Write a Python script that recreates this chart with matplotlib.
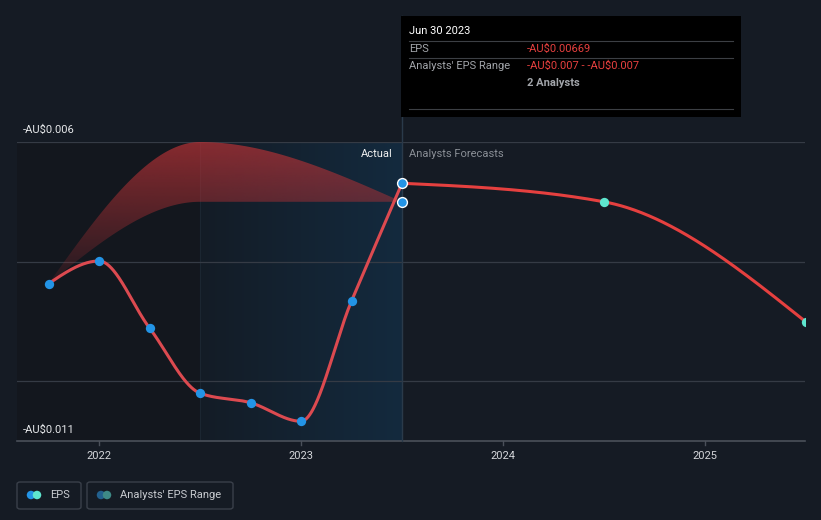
import matplotlib
matplotlib.use("Agg")
import matplotlib.pyplot as plt
import numpy as np
from matplotlib.patches import Rectangle, FancyBboxPatch, Ellipse, Polygon
from matplotlib.lines import Line2D
from matplotlib.colors import LinearSegmentedColormap, to_rgb

plt.rcParams["font.family"] = ["Roboto", "DejaVu Sans"]

# EPS history (decimal years, AU$)
eps_x = [2021.75, 2022.0, 2022.25, 2022.5, 2022.75, 2023.0, 2023.25, 2023.5]
eps_y = [-0.00837, -0.00799, -0.00911, -0.0102, -0.01036, -0.01067, -0.00866, -0.00669]

# analyst forecast
fc_x = [2023.5, 2024.5, 2025.5]
fc_y = [-0.00669, -0.007, -0.00901]

# analysts' EPS range
rng_x = [2021.75, 2022.5, 2023.5]
rng_hi = [-0.00837, -0.006, -0.007]
rng_lo = [-0.00837, -0.007, -0.007]

years = [2022, 2023, 2024, 2025]
y_labels = [r"-AU\$0.006", r"-AU\$0.011"]

W, H = 821, 520
BG = "#151b24"
RED = "#e5403f"
BLUE = "#2394e6"
TEAL = "#5ee6cf"


def monotone(x, y, n=200):
    # monotone cubic (like d3.curveMonotoneX)
    x = np.asarray(x, float)
    y = np.asarray(y, float)
    h = np.diff(x)
    d = np.diff(y) / h
    m = np.zeros(len(x))
    for i in range(1, len(x) - 1):
        if d[i - 1] * d[i] <= 0:
            m[i] = 0
        else:
            p = (d[i - 1] * h[i] + d[i] * h[i - 1]) / (h[i - 1] + h[i])
            m[i] = np.sign(d[i - 1]) * min(2 * abs(d[i - 1]), 2 * abs(d[i]), abs(p))
    if len(x) > 2:
        m[0] = (3 * d[0] - m[1]) / 2 if d[0] * (3 * d[0] - m[1]) > 0 else 0
        m[-1] = (3 * d[-1] - m[-2]) / 2 if d[-1] * (3 * d[-1] - m[-2]) > 0 else 0
    else:
        m[:] = d[0]
    xs, ys = [], []
    for i in range(len(x) - 1):
        t = np.linspace(0, 1, n)
        h00 = 2 * t**3 - 3 * t**2 + 1
        h10 = t**3 - 2 * t**2 + t
        h01 = -2 * t**3 + 3 * t**2
        h11 = t**3 - t**2
        xs.append(x[i] + t * h[i])
        ys.append(h00 * y[i] + h10 * h[i] * m[i] + h01 * y[i + 1] + h11 * h[i] * m[i + 1])
    return np.concatenate(xs), np.concatenate(ys)


fig = plt.figure(figsize=(W / 100, H / 100), dpi=100, facecolor=BG)
x0, x1, ytop, ybot = 17, 805, 142, 441
ax = fig.add_axes([x0 / W, 1 - ybot / H, (x1 - x0) / W, (ybot - ytop) / H])
ax.set_facecolor(BG)
xmin = 2022 - (99 - x0) / 202
xmax = 2022 + (x1 - 99) / 202
ax.set_xlim(xmin, xmax)
ax.set_ylim(-0.011, -0.006)
for s in ax.spines.values():
    s.set_visible(False)
ax.set_yticks([])
ax.set_xticks([])

# shaded past region + highlight
ax.axvspan(xmin, 2022.5, color="#13171e", zorder=0)
grad = np.linspace(0, 1, 256).reshape(1, -1)
cmap_b = LinearSegmentedColormap.from_list("hl", ["#141c26", "#132a3e"])
ax.imshow(grad, extent=[2022.5, 2023.5, -0.011, -0.006], aspect="auto", cmap=cmap_b, zorder=0.5)
ax.axvline(2022.5, color="#1b2631", lw=0.8, zorder=0.6)

# gridlines
for gy in [-0.006, -0.008, -0.010]:
    ax.axhline(gy, color="#353b45", lw=0.9, zorder=1)
ax.axhline(-0.011, color="#4a505a", lw=1.2, zorder=1, clip_on=False)

# analysts range band with vertical gradient
ux, uy = monotone(rng_x, rng_hi)
lx, ly = monotone(rng_x, rng_lo)
verts = np.concatenate([np.column_stack([ux, uy]), np.column_stack([lx, ly])[::-1]])
clip = Polygon(verts, closed=True, transform=ax.transData, fc="none", ec="none")
ax.add_patch(clip)
rgba = np.zeros((256, 1, 4))
rgba[..., :3] = to_rgb("#b53236")
rgba[:, 0, 3] = np.linspace(0.72, 0.05, 256)
im = ax.imshow(rgba, extent=[2021.75, 2023.5, -0.0086, -0.006], aspect="auto", zorder=2,
               origin="upper")
im.set_clip_path(clip)
ax.set_xlim(xmin, xmax)
ax.set_ylim(-0.011, -0.006)

# lines
px, py = monotone(eps_x, eps_y)
ax.plot(px, py, color="#dc4a50", lw=2.2, zorder=3, solid_capstyle="round")
fx, fy = monotone(fc_x, fc_y)
ax.plot(fx, fy, color=RED, lw=2.2, zorder=3, solid_capstyle="round")

# markers
ax.scatter(eps_x[:-1], eps_y[:-1], s=45, color=BLUE, zorder=4, lw=0)
ax.scatter([eps_x[-1], rng_x[-1]], [eps_y[-1], rng_lo[-1]], s=50, color=BLUE,
           edgecolor="white", lw=1.0, zorder=5)
ax.scatter(fc_x[1:], fc_y[1:], s=45, color=TEAL, zorder=4, lw=0)

# divider line
ax.plot([2023.5, 2023.5], [-0.011, -0.006 + 126 / 59.8 * 0.001], color="#2a3a4a", lw=1,
        clip_on=False, zorder=1)

# year ticks
for yr in years:
    ax.plot([yr, yr], [-0.011, -0.011 - 4 / 59.8 * 0.001], color="#4a505a", lw=1, clip_on=False)
    ax.text(yr, -0.011 - 15 / 59.8 * 0.001, str(yr), color="#d4d6da", fontsize=8,
            ha="center", va="center")


def ft(x, y, s, **kw):
    fig.text(x / W, 1 - y / H, s, **kw)


ft(23, 130, y_labels[0], color="#e6e8ea", fontsize=8, va="center")
ft(23, 430, y_labels[1], color="#e6e8ea", fontsize=8, va="center")
ft(393, 154, "Actual", color="#f0f0f0", fontsize=8, ha="right", va="center")
ft(409, 154, "Analysts Forecasts", color="#8a8f96", fontsize=8, ha="left", va="center")

# tooltip
fig.patches.append(Rectangle((401 / W, 1 - 117 / H), 340 / W, 101 / H, transform=fig.transFigure,
                             fc="#000000", ec="none", zorder=5))
for ly_ in [41, 58, 109]:
    fig.add_artist(Line2D([409 / W, 733 / W], [1 - ly_ / H] * 2, color="#3c3f44", lw=0.8, zorder=6))
ft(409, 31, "Jun 30 2023", color="#ffffff", fontsize=8, va="center", zorder=7)
ft(409, 49, "EPS", color="#a2a5aa", fontsize=8, va="center", zorder=7)
ft(527, 49, r"-AU\$0.00669", color="#e8403f", fontsize=8, va="center", zorder=7)
ft(409, 66, "Analysts' EPS Range", color="#a2a5aa", fontsize=8, va="center", zorder=7)
ft(527, 66, r"-AU\$0.007 - -AU\$0.007", color="#e8403f", fontsize=8, va="center", zorder=7)
ft(527, 83, "2 Analysts", color="#a2a5aa", fontsize=8, va="center", fontweight="bold", zorder=7)

# legend
for (bx, bw) in [(17, 64), (87, 146)]:
    fig.patches.append(FancyBboxPatch((bx / W, 1 - 509 / H), bw / W, 27 / H,
                                      boxstyle="round,pad=0,rounding_size=0.004",
                                      transform=fig.transFigure, fc="none", ec="#3a404a", lw=1))
for cx, col in [(31, BLUE), (37, TEAL), (101, "#22608e"), (107, "#3e8a87")]:
    fig.patches.append(Ellipse((cx / W, 1 - 495 / H), 8.5 / W, 8.5 / H, transform=fig.transFigure,
                               fc=col, ec="none"))
ft(50, 495, "EPS", color="#c8cbd0", fontsize=8, va="center")
ft(120, 495, "Analysts' EPS Range", color="#c8cbd0", fontsize=8, va="center")

fig.savefig("out.png", dpi=100, facecolor=BG)
